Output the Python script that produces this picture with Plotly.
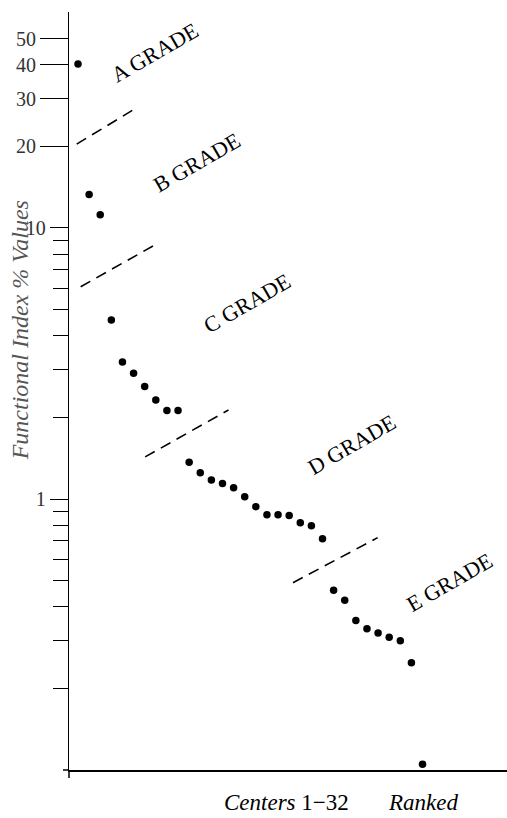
import plotly.graph_objects as go

# Ranked centers 1-32 and their functional index (% values), log scale
ranks = list(range(1, 33))
values = [40.3, 13.3, 11.2, 4.58, 3.2, 2.91, 2.60, 2.32, 2.12, 2.12,
          1.365, 1.25, 1.175, 1.14, 1.10, 1.02, 0.937, 0.875, 0.875, 0.87,
          0.818, 0.797, 0.714, 0.461, 0.423, 0.356, 0.332, 0.320, 0.309, 0.300,
          0.249, 0.105]

# Grade boundary dashed lines (rank, value) pairs
boundary_x = [[0.88, 5.98], [1.24, 7.85], [7.04, 14.54], [20.34, 27.96]]
boundary_y = [[20.4, 27.3], [6.07, 8.63], [1.43, 2.13], [0.491, 0.72]]

grade_labels = ["A GRADE", "B GRADE", "C GRADE", "D GRADE", "E GRADE"]

major_ticks_big = [20, 30, 40, 50]
major_ticks_small = [1, 10]
minor_ticks = [0.2, 0.3, 0.4, 0.5, 0.6, 0.7, 0.8, 0.9, 2, 3, 4, 5, 6, 7, 8, 9]

SERIF = "Liberation Serif, Times New Roman, serif"

fig = go.Figure()

for bx, by in zip(boundary_x, boundary_y):
    fig.add_trace(go.Scatter(x=bx, y=by, mode="lines",
                             line=dict(color="black", width=1.6, dash="11px,7px"),
                             hoverinfo="skip", showlegend=False))

fig.add_trace(go.Scatter(x=ranks, y=values, mode="markers",
                         marker=dict(color="black", size=7.5),
                         showlegend=False))

# invisible copy to anchor the second (long-tick) y axis
fig.add_trace(go.Scatter(x=ranks, y=values, mode="markers", yaxis="y2",
                         marker=dict(color="black", size=7, opacity=0),
                         hoverinfo="skip", showlegend=False))

yrange = [-1, 1.797]

fig.update_layout(
    width=507, height=818,
    margin=dict(l=69, r=0, t=12, b=48),
    paper_bgcolor="white", plot_bgcolor="white",
    font=dict(family=SERIF, color="#222"),
    xaxis=dict(range=[0.19, 39.6], showgrid=False, zeroline=False,
               showline=True, linecolor="black", linewidth=1.5,
               showticklabels=False, ticks=""),
    yaxis=dict(type="log", range=yrange, showgrid=False, zeroline=False,
               showline=True, linecolor="black", linewidth=1.3,
               tickvals=major_ticks_small, ticktext=[str(v) for v in major_ticks_small],
               ticks="outside", ticklen=18, tickwidth=1.3, tickcolor="black",
               tickfont=dict(family=SERIF, size=20, color="#333"),
               minor=dict(tickvals=minor_ticks, ticks="outside", ticklen=15,
                          tickwidth=1.3, tickcolor="black", showgrid=False)),
    yaxis2=dict(type="log", range=yrange, overlaying="y", side="left",
                showgrid=False, zeroline=False, showline=False,
                tickvals=major_ticks_big, ticktext=[str(v) for v in major_ticks_big],
                ticks="outside", ticklen=28, tickwidth=1.3, tickcolor="black",
                tickfont=dict(family=SERIF, size=20, color="#333")),
)

# small overshoot of the axis lines past their crossing
fig.add_shape(type="line", xref="paper", yref="paper", xsizemode="pixel", xanchor=0,
              x0=-6, x1=0, y0=0, y1=0, line=dict(color="black", width=1.5))
fig.add_shape(type="line", xref="paper", yref="paper", ysizemode="pixel", yanchor=0,
              x0=0, x1=0, y0=-8, y1=0, line=dict(color="black", width=1.5))

label_pos = [(0.196, 0.946), (0.292, 0.801), (0.406, 0.616), (0.646, 0.430), (0.868, 0.248)]
for txt, (px, py) in zip(grade_labels, label_pos):
    fig.add_annotation(text=txt, x=px, y=py, xref="paper", yref="paper",
                       xanchor="center", yanchor="middle",
                       showarrow=False, textangle=-30,
                       font=dict(family=SERIF, size=22, color="black"))

fig.add_annotation(text="<i>Functional Index % Values</i>", x=-0.112, y=0.58,
                   xref="paper", yref="paper", xanchor="center", yanchor="middle",
                   showarrow=False, textangle=-90,
                   font=dict(family=SERIF, size=24, color="#555"))

fig.add_annotation(text="<i>Centers</i> 1−32 &nbsp;&nbsp;&nbsp;&nbsp;&nbsp; <i>Ranked</i>",
                   x=0.349, y=-0.0435, xref="paper", yref="paper",
                   xanchor="left", yanchor="middle",
                   showarrow=False, font=dict(family=SERIF, size=23, color="black"))

fig.write_html("out.html", config={"displayModeBar": False},
               post_script="document.body.style.margin='0';document.body.style.overflow='hidden';")
